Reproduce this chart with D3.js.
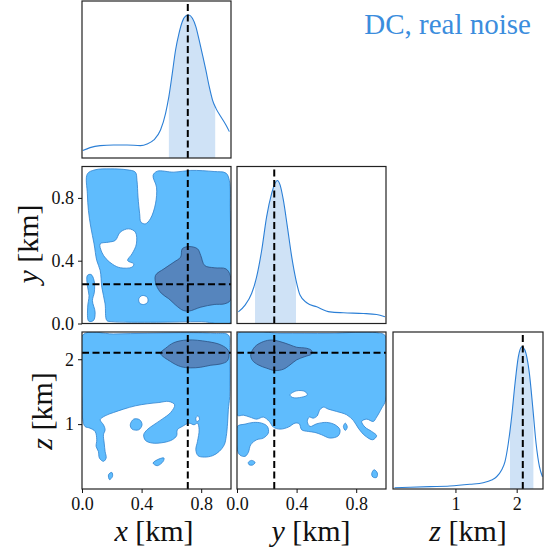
<!DOCTYPE html>
<html>
<head>
<meta charset="utf-8">
<script src="https://d3js.org/d3.v7.min.js"></script>
<style>
  body { margin: 0; background: #fff; }
</style>
</head>
<body>
<script>
// ---- data ----
var title = "DC, real noise";
var xTicks = [0.0, 0.4, 0.8],
    yTicks = [0.0, 0.4, 0.8],
    zTicks = [1, 2];
var truthX = 0.71, truthY = 0.25, truthZ = 2.1;

// marginal posteriors (relative height, 0 = panel bottom, 1 = panel top)
var xGrid = [0.005,0.054,0.122,0.212,0.302,0.392,0.437,0.482,0.527,0.561,0.583,0.606,0.628,0.651,0.673,0.696,0.718,0.741,0.764,0.786,0.809,0.831,0.854,0.876,0.899,0.932,0.966,0.989];
var xDens = [0.047,0.066,0.079,0.083,0.083,0.079,0.089,0.115,0.178,0.285,0.391,0.539,0.688,0.794,0.868,0.904,0.911,0.890,0.837,0.752,0.656,0.561,0.454,0.369,0.316,0.263,0.210,0.168];
var xBand = [0.583, 0.894];

var yGrid = [0.009,0.054,0.098,0.132,0.166,0.199,0.233,0.255,0.271,0.289,0.311,0.338,0.367,0.396,0.423,0.468,0.535,0.624,0.714,0.848,0.937,0.993];
var yDens = [0.074,0.117,0.191,0.298,0.468,0.681,0.830,0.894,0.911,0.883,0.787,0.617,0.426,0.277,0.181,0.132,0.106,0.074,0.068,0.064,0.057,0.043];
var yBand = [0.121, 0.396];

var zGrid = [0.005,0.251,0.579,0.907,1.235,1.454,1.590,1.672,1.754,1.809,1.863,1.918,1.973,2.027,2.082,2.109,2.153,2.208,2.262,2.317,2.372,2.421];
var zDens = [0.008,0.011,0.015,0.019,0.030,0.040,0.057,0.078,0.121,0.174,0.290,0.460,0.672,0.841,0.905,0.900,0.862,0.735,0.523,0.290,0.142,0.078];
var zBand = [1.891, 2.273];

// 2D credible regions, outlines as [x, y] in data units
var xyLight = [
  [[0.036,0.953],[0.088,0.979],[0.189,0.985],[0.302,0.979],[0.358,0.964],[0.369,0.911],[0.376,0.805],[0.387,0.699],[0.396,0.645],[0.426,0.635],[0.459,0.667],[0.493,0.762],[0.5,0.868],[0.477,0.943],[0.505,0.970],[0.617,0.964],[0.730,0.975],[0.887,0.968],[0.966,0.958],[0.989,0.911],[0.995,0.720],[1.0,0.401],[1.0,0.008],[0.8,0.012],[0.5,0.008],[0.2,0.012],[0.167,0.019],[0.155,0.125],[0.133,0.231],[0.122,0.338],[0.099,0.401],[0.081,0.507],[0.059,0.614],[0.043,0.720],[0.036,0.826]],
  [[0.036,0.306],[0.061,0.312],[0.081,0.274],[0.083,0.200],[0.070,0.146],[0.088,0.072],[0.077,0.019],[0.045,0.015],[0.038,0.104],[0.047,0.178],[0.036,0.242]]
];
var xyHoles = [
  [[0.122,0.507],[0.178,0.518],[0.223,0.529],[0.257,0.582],[0.313,0.603],[0.358,0.582],[0.365,0.507],[0.336,0.444],[0.306,0.401],[0.347,0.380],[0.336,0.359],[0.257,0.355],[0.207,0.376],[0.162,0.412],[0.133,0.454]],
  [[0.381,0.157],[0.403,0.178],[0.437,0.168],[0.441,0.136],[0.414,0.121],[0.387,0.130]]
];
var xyDark = [
  [[0.493,0.306],[0.550,0.348],[0.617,0.391],[0.662,0.423],[0.673,0.476],[0.718,0.490],[0.775,0.476],[0.797,0.433],[0.824,0.369],[0.887,0.355],[0.966,0.348],[0.995,0.306],[1.0,0.231],[0.995,0.146],[0.955,0.125],[0.887,0.121],[0.797,0.104],[0.718,0.079],[0.680,0.083],[0.640,0.108],[0.583,0.157],[0.532,0.193],[0.5,0.242]]
];

var xzLight = [
  [[0.005,2.374],[0.212,2.390],[0.437,2.400],[0.662,2.410],[0.887,2.400],[0.982,2.374],[0.991,2.144],[0.991,1.426],[0.982,1.221],[0.977,1.015],[0.968,0.810],[0.955,0.682],[0.921,0.579],[0.876,0.513],[0.820,0.492],[0.779,0.513],[0.764,0.605],[0.775,0.733],[0.786,0.913],[0.775,1.015],[0.752,0.990],[0.718,1.015],[0.673,0.964],[0.640,0.913],[0.635,0.821],[0.606,0.759],[0.550,0.718],[0.471,0.708],[0.426,0.749],[0.414,0.836],[0.437,0.913],[0.482,0.990],[0.538,1.077],[0.595,1.179],[0.622,1.297],[0.583,1.349],[0.516,1.333],[0.437,1.313],[0.358,1.282],[0.279,1.231],[0.212,1.179],[0.155,1.128],[0.122,1.067],[0.144,0.990],[0.155,0.913],[0.144,0.836],[0.149,0.708],[0.155,0.579],[0.162,0.477],[0.144,0.426],[0.117,0.477],[0.110,0.579],[0.095,0.656],[0.099,0.759],[0.088,0.887],[0.054,0.938],[0.020,0.964],[0.005,1.067],[0.002,1.272]],
  [[0.324,0.990],[0.347,1.077],[0.387,1.067],[0.403,0.990],[0.381,0.913],[0.336,0.923]],
  [[0.477,0.400],[0.516,0.462],[0.550,0.477],[0.545,0.426],[0.505,0.359]],
  [[0.178,0.221],[0.200,0.256],[0.205,0.195],[0.185,0.144]],
  [[0.764,1.092],[0.779,1.128],[0.788,1.067],[0.770,1.041]]
];
var xzDark = [
  [[0.527,2.092],[0.561,2.169],[0.617,2.256],[0.707,2.297],[0.842,2.272],[0.932,2.221],[0.982,2.133],[0.977,1.979],[0.932,1.928],[0.865,1.908],[0.797,1.877],[0.730,1.867],[0.662,1.887],[0.595,1.964]]
];

var yzLight = [
  [[0.002,2.390],[0.289,2.400],[0.624,2.400],[0.937,2.410],[0.998,2.354],[0.998,1.374],[0.971,1.246],[0.937,1.108],[0.915,1.041],[0.870,1.077],[0.837,1.041],[0.859,0.954],[0.904,0.887],[0.937,0.821],[0.911,0.759],[0.859,0.821],[0.814,0.938],[0.781,1.056],[0.736,1.144],[0.669,1.195],[0.613,1.231],[0.579,1.262],[0.553,1.210],[0.539,1.128],[0.512,1.092],[0.485,1.108],[0.472,1.041],[0.490,0.964],[0.535,1.005],[0.602,1.026],[0.658,0.990],[0.691,0.913],[0.680,0.821],[0.624,0.785],[0.568,0.836],[0.523,0.872],[0.479,0.887],[0.434,0.913],[0.418,1.005],[0.389,1.015],[0.345,0.954],[0.289,0.923],[0.244,0.954],[0.217,1.041],[0.177,1.108],[0.132,1.077],[0.087,1.108],[0.043,1.138],[0.002,1.138]],
  [[0.002,0.964],[0.054,1.0],[0.110,1.026],[0.166,1.015],[0.204,0.964],[0.210,0.862],[0.177,0.785],[0.132,0.759],[0.092,0.682],[0.076,0.564],[0.054,0.503],[0.020,0.523],[0.002,0.605]],
  [[0.076,0.410],[0.098,0.441],[0.121,0.410],[0.105,0.369],[0.081,0.374]],
  [[0.904,0.236],[0.920,0.297],[0.942,0.246],[0.937,0.179],[0.911,0.185]],
  [[0.714,0.964],[0.727,1.015],[0.740,0.954],[0.727,0.903]]
];
var yzHoles = [
  [[0.356,1.451],[0.400,1.513],[0.456,1.503],[0.472,1.451],[0.434,1.415],[0.374,1.410]]
];
var yzDark = [
  [[0.092,2.067],[0.121,2.195],[0.177,2.272],[0.233,2.297],[0.289,2.272],[0.356,2.221],[0.400,2.185],[0.468,2.169],[0.501,2.133],[0.501,2.082],[0.456,2.041],[0.400,1.990],[0.356,1.913],[0.311,1.846],[0.255,1.826],[0.199,1.862],[0.143,1.913],[0.105,1.979]]
];

// ---- layout ----
var width = 547, height = 550;
var serif = "Liberation Serif";
var lightFill = "#5fbcfd", lightEdge = "#2f83cf",
    darkFill = "#5685bd", darkEdge = "#2c5283",
    curveCol = "#2b7fd6", bandCol = "#cfe2f6";

var svg = d3.select("body").append("svg")
  .attr("width", width)
  .attr("height", height)
  .attr("font-family", serif);

// column scales (horizontal) and row scales (vertical)
var sx1 = d3.scaleLinear().domain([0, 1]).range([82, 231]);
var sx2 = d3.scaleLinear().domain([0, 1]).range([237, 386]);
var sx3 = d3.scaleLinear().domain([-0.02, 2.43]).range([393, 543]);
var sy2 = d3.scaleLinear().domain([0, 1]).range([323.5, 166.5]);
var sy3 = d3.scaleLinear().domain([0, 2.42]).range([489, 332]);
var h1 = d3.scaleLinear().domain([0, 1]).range([158, 1]);
var h2 = d3.scaleLinear().domain([0, 1]).range([323.5, 166.5]);
var h3 = d3.scaleLinear().domain([0, 1]).range([489, 332]);

var defs = svg.append("defs");
var clipN = 0;
function clipRect(x0, x1, y0, y1) {
  var id = "clip" + (clipN++);
  defs.append("clipPath").attr("id", id)
    .append("rect")
    .attr("x", x0).attr("y", y0)
    .attr("width", x1 - x0).attr("height", y1 - y0);
  return "url(#" + id + ")";
}

function panel(sx, sy) {
  var r = sx.range(), t = sy.range();
  var g = svg.append("g");
  var inner = g.append("g").attr("clip-path", clipRect(r[0], r[1], t[1], t[0]));
  return { g: g, inner: inner, sx: sx, sy: sy };
}

function region(p, rings, fill, stroke) {
  var line = d3.line()
    .x(function(d) { return p.sx(d[0]); })
    .y(function(d) { return p.sy(d[1]); })
    .curve(d3.curveCatmullRomClosed.alpha(0.5));
  p.inner.append("path")
    .attr("d", rings.map(function(r) { return line(r); }).join(""))
    .attr("fill", fill)
    .attr("fill-rule", "evenodd")
    .attr("stroke", stroke)
    .attr("stroke-width", 0.8);
}

function marginal(p, grid, dens, band) {
  var area = d3.area()
    .x(function(d, i) { return p.sx(grid[i]); })
    .y0(p.sy(0))
    .y1(function(d) { return p.sy(d); })
    .curve(d3.curveMonotoneX);
  var line = d3.line()
    .x(function(d, i) { return p.sx(grid[i]); })
    .y(function(d) { return p.sy(d); })
    .curve(d3.curveMonotoneX);
  var t = p.sy.range();
  p.inner.append("g")
    .attr("clip-path", clipRect(p.sx(band[0]), p.sx(band[1]), t[1], t[0]))
    .append("path")
    .attr("d", area(dens))
    .attr("fill", bandCol);
  p.inner.append("path")
    .attr("d", line(dens))
    .attr("fill", "none")
    .attr("stroke", curveCol)
    .attr("stroke-width", 1.1);
}

function vline(p, v) {
  var t = p.sy.range();
  p.inner.append("line")
    .attr("x1", p.sx(v)).attr("x2", p.sx(v))
    .attr("y1", t[0]).attr("y2", t[1])
    .attr("stroke", "#000").attr("stroke-width", 2)
    .attr("stroke-dasharray", "7,3.5");
}
function hline(p, v) {
  var r = p.sx.range();
  p.inner.append("line")
    .attr("x1", r[0]).attr("x2", r[1])
    .attr("y1", p.sy(v)).attr("y2", p.sy(v))
    .attr("stroke", "#000").attr("stroke-width", 2)
    .attr("stroke-dasharray", "7,3.5");
}
function frame(p) {
  var r = p.sx.range(), t = p.sy.range();
  p.g.append("rect")
    .attr("x", r[0]).attr("y", t[1])
    .attr("width", r[1] - r[0]).attr("height", t[0] - t[1])
    .attr("fill", "none")
    .attr("stroke", "#222")
    .attr("stroke-width", 1.2);
}

// row 1: x marginal
var p11 = panel(sx1, h1);
marginal(p11, xGrid, xDens, xBand);
vline(p11, truthX);
frame(p11);

// row 2: x-y joint, y marginal
var p21 = panel(sx1, sy2);
region(p21, xyLight.concat(xyHoles), lightFill, lightEdge);
region(p21, xyDark, darkFill, darkEdge);
vline(p21, truthX);
hline(p21, truthY);
frame(p21);

var p22 = panel(sx2, h2);
marginal(p22, yGrid, yDens, yBand);
vline(p22, truthY);
frame(p22);

// row 3: x-z, y-z joints, z marginal
var p31 = panel(sx1, sy3);
region(p31, xzLight, lightFill, lightEdge);
region(p31, xzDark, darkFill, darkEdge);
vline(p31, truthX);
hline(p31, truthZ);
frame(p31);

var p32 = panel(sx2, sy3);
region(p32, yzLight.concat(yzHoles), lightFill, lightEdge);
region(p32, yzDark, darkFill, darkEdge);
vline(p32, truthY);
hline(p32, truthZ);
frame(p32);

var p33 = panel(sx3, h3);
marginal(p33, zGrid, zDens, zBand);
vline(p33, truthZ);
frame(p33);

// axes
function styleAxis(g) {
  g.select(".domain").remove();
  g.attr("font-family", serif).attr("font-size", "18px");
  g.selectAll("text").attr("fill", "#111");
  g.selectAll("line").attr("stroke", "#111");
}
svg.append("g").attr("transform", "translate(0,489)")
  .call(d3.axisBottom(sx1).tickValues(xTicks).tickFormat(d3.format(".1f")).tickSize(4).tickPadding(4))
  .call(styleAxis);
svg.append("g").attr("transform", "translate(0,489)")
  .call(d3.axisBottom(sx2).tickValues(yTicks).tickFormat(d3.format(".1f")).tickSize(4).tickPadding(4))
  .call(styleAxis);
svg.append("g").attr("transform", "translate(0,489)")
  .call(d3.axisBottom(sx3).tickValues(zTicks).tickFormat(d3.format("d")).tickSize(4).tickPadding(4))
  .call(styleAxis);
svg.append("g").attr("transform", "translate(82,0)")
  .call(d3.axisLeft(sy2).tickValues(yTicks).tickFormat(d3.format(".1f")).tickSize(4).tickPadding(4))
  .call(styleAxis);
svg.append("g").attr("transform", "translate(82,0)")
  .call(d3.axisLeft(sy3).tickValues(zTicks).tickFormat(d3.format("d")).tickSize(4).tickPadding(4))
  .call(styleAxis);

// axis labels
function label(x, y, rot, v) {
  var t = svg.append("text")
    .attr("transform", "translate(" + x + "," + y + ")" + (rot ? " rotate(-90)" : ""))
    .attr("text-anchor", "middle")
    .attr("font-size", "30px")
    .attr("fill", "#111");
  t.append("tspan").attr("font-style", "italic").text(v);
  t.append("tspan").text(" [km]");
}
label(154, 541, false, "x");
label(311, 541, false, "y");
label(468, 541, false, "z");
label(38, 244, true, "y");
label(52, 411, true, "z");

// title
svg.append("text")
  .attr("x", 531).attr("y", 34)
  .attr("text-anchor", "end")
  .attr("font-size", "29px")
  .attr("fill", "#3b8ddd")
  .text(title);
</script>
</body>
</html>
